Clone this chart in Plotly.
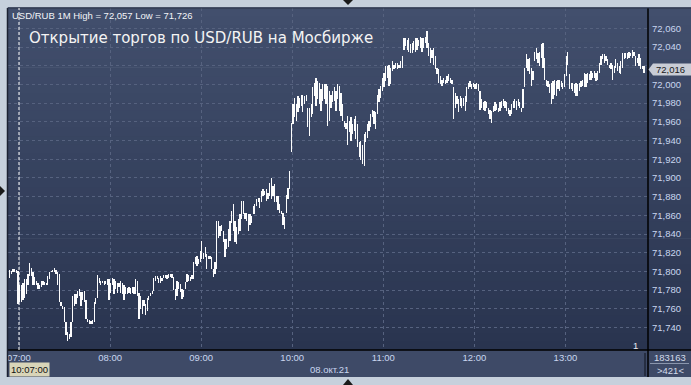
import plotly.graph_objects as go
import pandas as pd

# ---------------- data (prices in thousandths above BASE) ----------------
BASE = 71.700

LOW_1 = [93, 97, 99, 99, 98, 65, 67, 67, 70, 72,
         76, 85, 95, 95, 86, 85, 85, 81, 81, 83,
         85, 85, 85, 85, 92, 99, 99, 99, 97, 86,
         67, 63, 60, 46, 32, 26, 28, 30, 46, 63,
         65, 72, 74, 63, 70, 67, 49, 46, 44, 44,
         44, 46, 65, 72, 88, 85, 88, 86, 87, 86,
         70, 77, 86, 76, 81, 77, 83, 77, 76, 70,
         76, 76, 77, 76, 77, 76, 76, 74, 49, 60,
         54, 63, 53, 58, 69, 74, 76, 79, 90, 92,
         88, 88, 90, 93, 93, 92, 93, 94, 93]
HIGH_1 = [102, 100, 103, 103, 102, 100, 86, 85, 88, 92,
          92, 97, 109, 104, 99, 94, 90, 88, 86, 90,
          90, 89, 88, 95, 99, 101, 102, 104, 102, 99,
          97, 67, 63, 62, 46, 35, 33, 46, 74, 76,
          76, 79, 81, 78, 78, 79, 69, 49, 48, 47,
          48, 67, 72, 96, 93, 90, 90, 90, 90, 92,
          92, 88, 93, 92, 90, 88, 88, 90, 88, 85,
          83, 82, 83, 82, 83, 83, 92, 90, 77, 74,
          70, 70, 65, 72, 74, 77, 79, 93, 95, 95,
          93, 95, 93, 96, 96, 96, 97, 97, 97]

LOW_2 = [80, 69, 74, 81, 78, 71, 73, 81, 89, 90,
         90, 92, 92, 108, 106, 108, 110, 113, 113, 115,
         103, 113, 113, 103, 94, 97, 103, 136, 138, 143,
         131, 115, 124, 126, 133, 152, 143, 131, 129, 140,
         143, 156, 161, 156, 154, 143, 150, 152, 161, 161,
         170, 174, 168, 174, 181, 182, 175, 177, 181, 177,
         181, 174, 174, 166, 163, 161, 150, 145, 163, 177,
         188]
HIGH_2 = [94, 81, 90, 89, 87, 81, 80, 89, 97, 96,
          94, 96, 110, 115, 117, 113, 122, 133, 120, 126,
          119, 117, 117, 115, 103, 110, 154, 154, 149, 150,
          143, 135, 135, 145, 154, 165, 172, 154, 147, 156,
          161, 175, 175, 163, 163, 161, 161, 159, 170, 172,
          177, 179, 179, 186, 188, 186, 188, 184, 195, 200,
          191, 193, 181, 181, 172, 165, 163, 158, 182, 189,
          207]

LOW_3 = [228, 258, 265, 261, 270, 275, 277, 270, 279, 282,
         254, 245, 265, 268, 288, 277, 284, 279, 272, 282,
         284, 279, 256, 261, 275, 281, 282, 272, 284, 272,
         266, 261, 254, 252, 235, 249, 240, 247, 250, 242,
         233, 222, 219, 215, 213, 238, 243, 250, 254, 265,
         258, 252, 268, 281, 286, 293, 297, 304, 307, 298,
         300, 314, 316, 318, 316, 318, 318, 318, 337, 341,
         337, 335, 334, 334, 337, 335, 337, 341, 339, 335,
         339, 344, 339, 330, 323, 328, 321, 316, 311, 302,
         300, 298, 302, 300, 302, 304, 302, 300, 263, 275,
         279, 270, 277, 275, 277, 272]
HIGH_3 = [259, 279, 286, 279, 288, 286, 289, 289, 288, 289,
          275, 275, 279, 297, 302, 307, 304, 302, 295, 300,
          300, 300, 298, 293, 289, 293, 297, 293, 300, 298,
          291, 279, 261, 259, 266, 261, 265, 258, 263, 266,
          258, 238, 240, 235, 247, 249, 258, 261, 268, 273,
          272, 270, 289, 295, 298, 307, 312, 320, 320, 321,
          318, 325, 321, 323, 323, 321, 325, 330, 350, 350,
          348, 350, 343, 344, 346, 350, 350, 348, 351, 350,
          350, 351, 357, 344, 339, 337, 339, 330, 318, 316,
          309, 305, 307, 305, 309, 311, 307, 305, 297, 291,
          288, 284, 288, 286, 286, 288]

LOW_4 = [281, 295, 297, 295, 297, 295, 295, 293, 273, 275,
         273, 272, 275, 268, 263, 259, 270, 272, 273, 270,
         272, 275, 277, 275, 272, 268, 266, 268, 275, 275,
         273, 277, 275, 270, 275, 297, 318, 314, 311, 298,
         305, 325, 327, 323, 320, 328, 318, 305, 298, 297,
         291, 279, 284, 289, 288, 295, 293, 297, 295, 297,
         309, 321, 295, 295, 293, 291, 288, 288, 293, 297,
         298, 297, 297, 302, 305, 305, 307, 307, 304, 305,
         312, 321, 327, 323, 325, 321, 318, 316, 305, 312,
         318, 314, 312, 311, 318, 327, 328, 327, 328, 330,
         328, 330, 320, 323, 320, 316, 316, 312]
HIGH_4 = [297, 302, 304, 300, 302, 300, 302, 300, 293, 284,
          281, 282, 281, 275, 273, 272, 277, 281, 279, 275,
          281, 282, 284, 282, 281, 275, 273, 279, 282, 284,
          282, 284, 281, 275, 295, 318, 332, 327, 328, 318,
          314, 335, 339, 334, 335, 343, 344, 328, 305, 304,
          300, 302, 304, 305, 304, 305, 305, 304, 302, 311,
          330, 335, 311, 302, 302, 300, 302, 300, 302, 304,
          305, 312, 311, 312, 311, 314, 312, 314, 312, 314,
          323, 330, 332, 332, 330, 327, 321, 323, 321, 320,
          327, 323, 320, 325, 334, 334, 334, 334, 335, 334,
          337, 335, 330, 328, 332, 328, 320, 320]

FIRST_BAR = "2021-10-08 06:53:54"
LAST_BAR = "2021-10-08 13:51:43"
X_START = "2021-10-08 06:52:45"
X_END = "2021-10-08 13:54:21"

Y_TICKS = [71.74, 71.76, 71.78, 71.80, 71.82, 71.84, 71.86, 71.88, 71.90,
           71.92, 71.94, 71.96, 71.98, 72.00, 72.02, 72.04, 72.06]
Y_TICK_TEXT = ["71,740", "71,760", "71,780", "71,800", "71,820", "71,840", "71,860",
               "71,880", "71,900", "71,920", "71,940", "71,960", "71,980", "72,000",
               "", "72,040", "72,060"]   # 72,020 sits hidden under the price marker
Y_RANGE = [71.716, 72.0817]
HOUR_LABELS = ["07:00", "08:00", "09:00", "10:00", "11:00", "12:00", "13:00"]
HOUR_TICKS = ["2021-10-08 " + h for h in HOUR_LABELS]

HEADER = "USD/RUB 1M High = 72,057 Low = 71,726"
TITLE = "Открытие торгов по USD/RUB на Мосбирже"
LAST_PRICE = 72.016
LAST_PRICE_TEXT = "72,016"
CURSOR_TIME = "2021-10-08 07:00"
CURSOR_LABEL = "10:07:00"
DATE_LABEL = "08.окт.21"
VOLUME_LABEL = "183163"
BARS_LABEL = ">421<"

# ---------------- build ----------------
LOW_PTS = LOW_1 + LOW_2 + LOW_3 + LOW_4
HIGH_PTS = HIGH_1 + HIGH_2 + HIGH_3 + HIGH_4
assert len(LOW_PTS) == len(HIGH_PTS)
LOWS = [round(BASE + v / 1000, 3) for v in LOW_PTS]
HIGHS = [round(BASE + v / 1000, 3) for v in HIGH_PTS]
RANGES = [round(h - l, 3) for h, l in zip(HIGHS, LOWS)]
TIMES = pd.date_range(FIRST_BAR, LAST_BAR, periods=len(LOWS))

W, H = 691, 385
ML, MR, MT, MB = 8, 43, 8, 35
PW, PH = W - ML - MR, H - MT - MB


def px(x):
    return (x - ML) / PW


def py(y):
    return (H - MB - y) / PH


LABEL = "#c9d6ef"
GRID = "#56627f"
FONT = "Liberation Sans"

fig = go.Figure()
fig.add_trace(go.Bar(
    x=TIMES, y=RANGES, base=LOWS, width=50000,
    marker=dict(color="rgba(255,255,255,0.99)", line=dict(width=0)),
    hoverinfo="skip", showlegend=False,
))

shapes = []
# gradient background (plot + right axis panel)
top = (0x42, 0x4f, 0x6d)
bot = (0x29, 0x34, 0x4f)
n = 40
for i in range(n):
    t = (i + 0.5) / n
    c = tuple(int(round(bot[k] + (top[k] - bot[k]) * t)) for k in range(3))
    shapes.append(dict(type="rect", xref="paper", yref="paper",
                       x0=0, x1=px(W), y0=i / n, y1=(i + 1) / n + 0.002,
                       fillcolor="rgb(%d,%d,%d)" % c, line=dict(width=0), layer="below"))
# bottom time panel
shapes.append(dict(type="rect", xref="paper", yref="paper", x0=0, x1=px(W),
                   y0=py(377), y1=0, fillcolor="#3e4a67", line=dict(width=0), layer="below"))
# borders
shapes.append(dict(type="line", xref="paper", yref="paper", x0=0, x1=px(W), y0=0, y1=0,
                   line=dict(color="#000000", width=1.5)))
shapes.append(dict(type="line", xref="paper", yref="paper", x0=px(648), x1=px(648),
                   y0=py(377), y1=1, line=dict(color="#000000", width=1.5)))
shapes.append(dict(type="line", xref="paper", yref="paper", x0=px(7.5), x1=px(7.5),
                   y0=py(377), y1=1, line=dict(color="#1c2232", width=1.5)))
shapes.append(dict(type="line", xref="paper", yref="paper", x0=px(7.5), x1=px(W),
                   y0=1, y1=1, line=dict(color="#2a3347", width=1)))
shapes.append(dict(type="line", xref="paper", yref="paper", x0=px(645), x1=px(645),
                   y0=py(376), y1=py(353), line=dict(color="#1f2636", width=1.5)))
shapes.append(dict(type="line", xref="paper", yref="paper", x0=px(650), x1=px(689),
                   y0=py(363.5), y1=py(363.5), line=dict(color="#8a96ad", width=1)))
# cursor dotted line at 07:00
shapes.append(dict(type="line", xref="x", yref="paper", x0=CURSOR_TIME, x1=CURSOR_TIME,
                   y0=0, y1=1, line=dict(color="#ffffff", width=1, dash="3px,2px")))
# price marker arrow
dy = 6 * (Y_RANGE[1] - Y_RANGE[0]) / PH
shapes.append(dict(type="path", xref="paper", yref="y",
                   path="M %f,%f L %f,%f L %f,%f L %f,%f L %f,%f Z" % (
                       px(648.5), LAST_PRICE,
                       px(653), LAST_PRICE + dy,
                       px(W), LAST_PRICE + dy,
                       px(W), LAST_PRICE - dy,
                       px(653), LAST_PRICE - dy),
                   fillcolor="#c9cdd6", line=dict(width=0)))
# small edge triangles
for pts in [[(343, 0), (353, 0), (348, 5)],
            [(0, 186), (0, 196), (5, 191)],
            [(343, 385), (353, 385), (348, 379)]]:
    path = "M " + " L ".join("%f,%f" % (px(a), py(b)) for a, b in pts) + " Z"
    shapes.append(dict(type="path", xref="paper", yref="paper", path=path,
                       fillcolor="#1a1a1a", line=dict(width=0)))

annotations = [
    dict(text=HEADER, xref="paper", yref="paper", x=px(10), y=py(15.5),
         xanchor="left", yanchor="middle", showarrow=False,
         font=dict(family=FONT, size=9.5, color="#f2f4f8")),
    dict(text=TITLE, xref="paper", yref="paper", x=px(27), y=py(38),
         xanchor="left", yanchor="middle", showarrow=False,
         font=dict(family="DejaVu Sans", size=15, color="#f4f4f4")),
    dict(text=LAST_PRICE_TEXT, xref="paper", yref="y", x=px(653.5), y=LAST_PRICE,
         xanchor="left", yanchor="middle", showarrow=False,
         font=dict(family=FONT, size=9.5, color="#1a1a1a")),
    dict(text=CURSOR_LABEL, xref="paper", yref="paper", x=px(8.5), y=py(369.5),
         xanchor="left", yanchor="middle", showarrow=False, bgcolor="#d9d5b8",
         borderpad=1, font=dict(family=FONT, size=9.5, color="#111111")),
    dict(text=DATE_LABEL, xref="paper", yref="paper", x=px(329), y=py(370),
         xanchor="center", yanchor="middle", showarrow=False,
         font=dict(family=FONT, size=9.5, color=LABEL)),
    dict(text=VOLUME_LABEL, xref="paper", yref="paper", x=px(670), y=py(357.5),
         xanchor="center", yanchor="middle", showarrow=False,
         font=dict(family=FONT, size=9.5, color="#d3dbea")),
    dict(text=BARS_LABEL, xref="paper", yref="paper", x=px(670), y=py(370.5),
         xanchor="center", yanchor="middle", showarrow=False,
         font=dict(family=FONT, size=9.5, color="#d3dbea")),
    dict(text="1", xref="paper", yref="paper", x=px(635), y=py(345),
         xanchor="center", yanchor="middle", showarrow=False,
         font=dict(family=FONT, size=9.5, color="#e8ecf4")),
]

fig.update_layout(
    width=W, height=H,
    margin=dict(l=ML, r=MR, t=MT, b=MB, pad=0),
    paper_bgcolor="#c6d0dc",
    plot_bgcolor="rgba(0,0,0,0)",
    separators=", ",
    showlegend=False,
    bargap=0,
    shapes=shapes,
    annotations=annotations,
    xaxis=dict(type="date", range=[X_START, X_END], tickvals=HOUR_TICKS, ticktext=HOUR_LABELS,
               showgrid=True, gridcolor=GRID, griddash="3px,3px", gridwidth=1,
               showline=False, zeroline=False, ticks="",
               tickfont=dict(family=FONT, size=9.5, color=LABEL)),
    yaxis=dict(side="right", range=Y_RANGE, tickvals=Y_TICKS, ticktext=Y_TICK_TEXT,
               showgrid=True, gridcolor=GRID, griddash="3px,3px", gridwidth=1,
               showline=False, zeroline=False, ticks="", ticklabelstandoff=3,
               tickfont=dict(family=FONT, size=9.5, color=LABEL)),
)

fig.write_html("out.html")
